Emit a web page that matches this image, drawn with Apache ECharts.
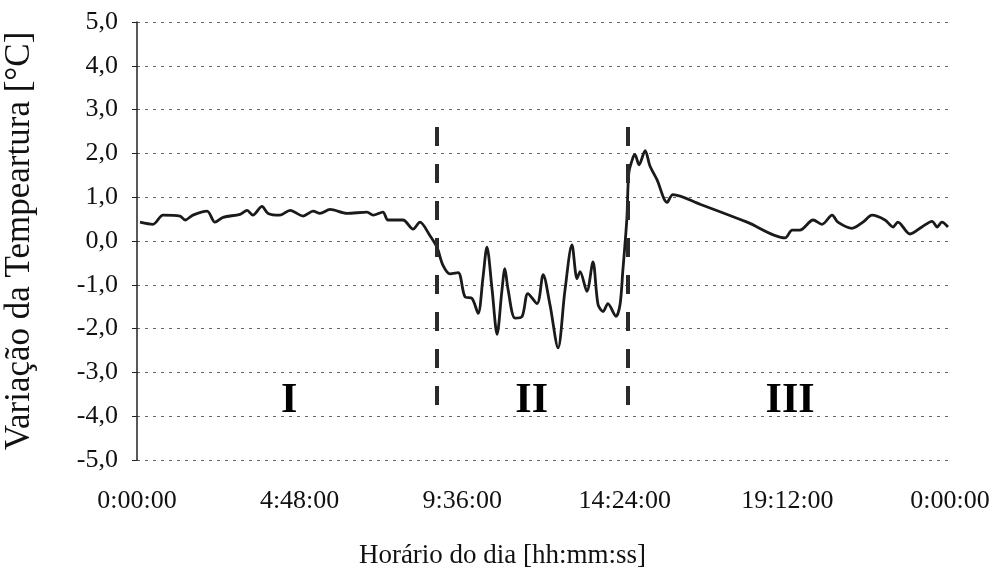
<!DOCTYPE html>
<html>
<head>
<meta charset="utf-8">
<script src="https://cdn.jsdelivr.net/npm/echarts@6/dist/echarts.min.js"></script>
<style>
  html, body { margin: 0; padding: 0; background: #fff; }
  #chart { width: 1001px; height: 578px; }
</style>
</head>
<body>
<div id="chart"></div>
<script>
// hora do dia (h) e variação da temperatura (°C)
const timeHours = [
  0.09, 0.47, 0.77, 1.27, 1.42, 1.65, 2.07, 2.30, 2.54, 3.04, 3.25, 3.42, 3.69, 3.87,
  4.22, 4.52, 4.90, 5.20, 5.40, 5.70, 6.20, 6.79, 6.97, 7.26, 7.41, 7.85, 8.15, 8.35,
  8.65, 8.86, 9.03, 9.24, 9.48, 9.68, 9.89, 10.07, 10.21, 10.33, 10.48, 10.63, 10.77,
  10.86, 10.95, 11.16, 11.37, 11.54, 11.81, 11.99, 12.19, 12.43, 12.63, 12.84, 12.99,
  13.08, 13.28, 13.46, 13.61, 13.76, 13.90, 14.14, 14.26, 14.34, 14.46, 14.52, 14.64,
  14.70, 14.82, 15.00, 15.14, 15.35, 15.65, 15.82, 16.62, 18.01, 19.13, 19.34, 19.57,
  19.96, 20.22, 20.52, 20.69, 21.11, 21.43, 21.70, 22.08, 22.32, 22.46, 22.82, 23.17,
  23.47, 23.62, 23.76, 23.94
];
const tempValues = [
  0.43, 0.38, 0.59, 0.57, 0.48, 0.59, 0.68, 0.43, 0.54, 0.61, 0.70, 0.59, 0.79, 0.63,
  0.59, 0.70, 0.57, 0.68, 0.63, 0.72, 0.63, 0.66, 0.59, 0.66, 0.48, 0.48, 0.27, 0.43,
  0.12, -0.15, -0.55, -0.75, -0.72, -1.27, -1.31, -1.65, -0.86, -0.14, -1.09, -2.13, -1.15,
  -0.63, -1.09, -1.76, -1.72, -1.20, -1.43, -0.77, -1.45, -2.44, -1.15, -0.09, -0.86,
  -0.70, -1.15, -0.48, -1.45, -1.61, -1.43, -1.72, -1.45, -0.70, 0.50, 1.56, 1.90,
  1.97, 1.74, 2.06, 1.72, 1.40, 0.88, 1.06, 0.84, 0.43, 0.07, 0.25, 0.25,
  0.48, 0.38, 0.59, 0.43, 0.29, 0.43, 0.59, 0.48, 0.32, 0.43, 0.16, 0.32,
  0.45, 0.32, 0.43, 0.32
];
// limites das fases (h) e rótulos das fases
const phaseBounds = [8.84, 14.49];
const phaseLabels = ['I', 'II', 'III'];
const phaseLabelX = [4.49, 11.65, 19.28];
const phaseLabelY = -3.65;

const serif = '"Liberation Serif", "DejaVu Serif", serif';

function fmtHour(v) {
  const mins = Math.round(v * 60) % 1440;
  const h = Math.floor(mins / 60);
  const m = mins % 60;
  return h + ':' + String(m).padStart(2, '0') + ':00';
}

const chart = echarts.init(document.getElementById('chart'));
chart.setOption({
  animation: false,
  grid: { left: 137, right: 51, top: 22, bottom: 118, outerBoundsMode: 'none', containLabel: false },
  xAxis: {
    type: 'value',
    min: 0,
    max: 24,
    interval: 4.8,
    name: 'Horário do dia [hh:mm:ss]',
    nameLocation: 'middle',
    nameGap: 82,
    nameTextStyle: { fontFamily: serif, fontSize: 27, color: '#111', padding: [0, 82, 0, 0] },
    axisLine: { show: false },
    axisTick: { show: false },
    splitLine: { show: false },
    axisLabel: {
      fontFamily: serif, fontSize: 26, color: '#111', margin: 28,
      formatter: fmtHour
    }
  },
  yAxis: {
    type: 'value',
    min: -5,
    max: 5,
    interval: 1,
    name: 'Variação da Tempeartura [°C]',
    nameLocation: 'middle',
    nameGap: 100,
    nameTextStyle: { fontFamily: serif, fontSize: 35, color: '#111' },
    axisLine: { show: true, lineStyle: { color: '#222', width: 1.5 } },
    axisTick: { show: true, length: 5, lineStyle: { color: '#222' } },
    axisLabel: {
      fontFamily: serif, fontSize: 26, color: '#111', margin: 19,
      formatter: v => v.toFixed(1).replace('.', ',')
    },
    splitLine: {
      show: true,
      lineStyle: { color: '#666', width: 1, type: [3, 5] }
    }
  },
  series: [
    {
      type: 'line',
      data: timeHours.map((t, i) => [t, tempValues[i]]),
      smooth: 0.3,
      showSymbol: false,
      lineStyle: { color: '#1a1a1a', width: 2.8 },
      markLine: {
        silent: true,
        symbol: 'none',
        label: { show: false },
        lineStyle: { color: '#2a2a2a', width: 4, type: [19, 18] },
        data: phaseBounds.map(x => [{ coord: [x, 2.6] }, { coord: [x, -4.0] }])
      }
    },
    {
      type: 'scatter',
      symbolSize: 0,
      itemStyle: { opacity: 1 },
      data: phaseLabels.map((s, i) => [phaseLabelX[i], phaseLabelY, s]),
      label: {
        show: true,
        position: 'inside',
        formatter: p => p.data[2],
        fontFamily: serif,
        fontSize: 42,
        fontWeight: 'bold',
        color: '#000',
        textBorderWidth: 0
      }
    }
  ]
});
</script>
</body>
</html>
